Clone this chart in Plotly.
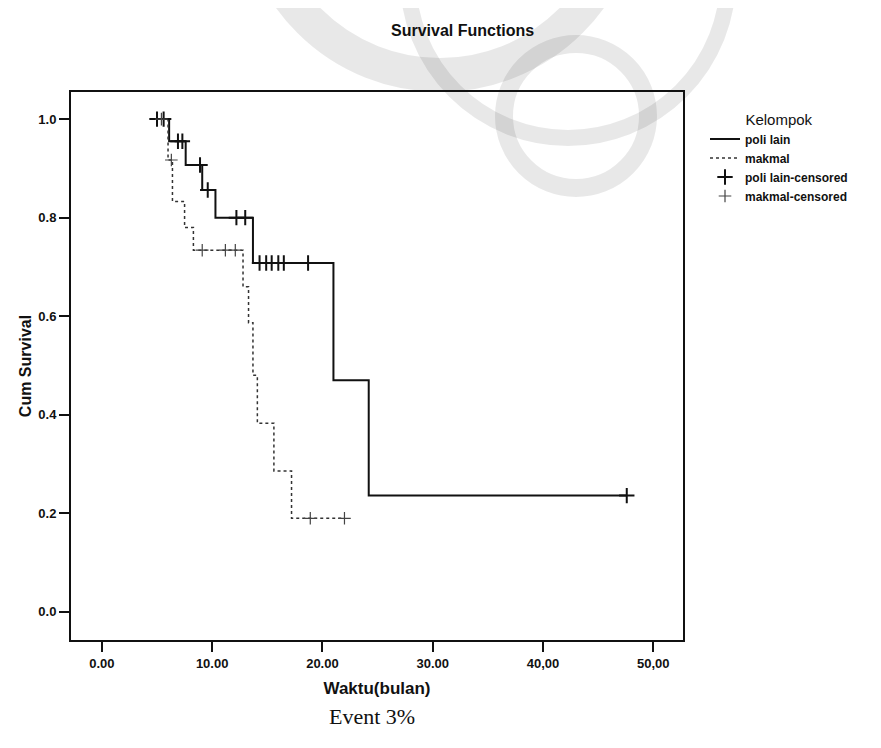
import plotly.graph_objects as go

# poli lain (solid) step curve
poli_t = [5.0, 6.1, 7.6, 9.1, 10.3, 13.7, 21.0, 24.2, 47.6]
poli_s = [1.0, 0.955, 0.907, 0.856, 0.80, 0.708, 0.47, 0.236, 0.236]
poli_cens_t = [5.0, 5.6, 6.9, 7.3, 8.9, 9.6, 12.2, 13.0, 14.3, 14.9, 15.4, 16.0, 16.5, 18.7, 47.6]
poli_cens_s = [1.0, 1.0, 0.955, 0.955, 0.907, 0.856, 0.80, 0.80, 0.708, 0.708, 0.708, 0.708, 0.708, 0.708, 0.236]

# makmal (dotted) step curve
mak_t = [5.4, 6.0, 6.4, 7.5, 8.3, 12.8, 13.3, 13.7, 14.1, 15.6, 17.2, 22.0]
mak_s = [1.0, 0.917, 0.833, 0.78, 0.734, 0.66, 0.587, 0.48, 0.383, 0.286, 0.19, 0.19]
mak_cens_t = [5.4, 6.3, 9.1, 11.2, 12.1, 18.9, 22.0]
mak_cens_s = [1.0, 0.917, 0.734, 0.734, 0.734, 0.19, 0.19]

x_ticks = [0, 10, 20, 30, 40, 50]
x_labels = ["0.00", "10.00", "20.00", "30.00", "40,00", "50,00"]
y_ticks = [0.0, 0.2, 0.4, 0.6, 0.8, 1.0]
y_labels = ["0.0", "0.2", "0.4", "0.6", "0.8", "1.0"]

FONT = "Liberation Sans, Arial, sans-serif"
W, H = 873, 740
L, T, PW, PH = 63, 84, 612, 548

def px(x):
    return (x - L) / PW

def py(y):
    return (T + PH - y) / PH

fig = go.Figure()
fig.add_trace(go.Scatter(x=poli_t, y=poli_s, mode="lines", line_shape="hv",
                         line=dict(color="#111111", width=2), name="poli lain"))
fig.add_trace(go.Scatter(x=mak_t, y=mak_s, mode="lines", line_shape="hv",
                         line=dict(color="#333333", width=1.5, dash="dot"), name="makmal"))
fig.add_trace(go.Scatter(x=poli_cens_t, y=poli_cens_s, mode="markers",
                         marker=dict(symbol="cross-thin", size=11, line=dict(color="#111111", width=2)),
                         name="poli lain-censored"))
fig.add_trace(go.Scatter(x=mak_cens_t, y=mak_cens_s, mode="markers",
                         marker=dict(symbol="cross-thin", size=9, line=dict(color="#444444", width=1.2)),
                         name="makmal-censored"))

# faint watermark arcs (decorative background)
wm = "rgba(0,0,0,0.09)"
def ring(cx, cy, r, w):
    return dict(type="circle", xref="paper", yref="paper", layer="below",
                x0=px(cx - r), x1=px(cx + r), y0=py(cy + r), y1=py(cy - r),
                line=dict(color=wm, width=w), fillcolor="rgba(0,0,0,0)")

shapes = [
    ring(432, -118, 185, 34),
    ring(568, 108, 72, 18),
    ring(560, -30, 160, 16),
]

fig.update_layout(
    width=W, height=H,
    margin=dict(l=L, r=W - L - PW, t=T, b=H - T - PH),
    paper_bgcolor="white", plot_bgcolor="rgba(0,0,0,0)",
    font=dict(family=FONT, color="#111111"),
    showlegend=True,
    shapes=shapes,
    legend=dict(x=px(697), y=py(97), xanchor="left", yanchor="top",
                title=dict(text="Kelompok", side="top center",
                           font=dict(size=15, color="#111111", weight="normal")),
                font=dict(size=12, color="#111111", weight="bold"), tracegroupgap=0,
                itemwidth=30, bgcolor="rgba(0,0,0,0)"),
    xaxis=dict(range=[-2.8, 52.7], tickvals=x_ticks, ticktext=x_labels,
               ticks="outside", ticklen=10, tickwidth=2, tickcolor="#111111",
               showline=True, linecolor="#111111", linewidth=2, mirror=True,
               showgrid=False, zeroline=False,
               tickfont=dict(size=13, family=FONT, weight="bold"),
               title=dict(text="Waktu(bulan)", font=dict(size=17, weight="bold"), standoff=13)),
    yaxis=dict(range=[-0.057, 1.055], tickvals=y_ticks, ticktext=y_labels,
               ticks="outside", ticklen=10, tickwidth=2, tickcolor="#111111",
               showline=True, linecolor="#111111", linewidth=2, mirror=True,
               showgrid=False, zeroline=False,
               tickfont=dict(size=13, family=FONT, weight="bold"),
               title=dict(text="Cum Survival", font=dict(size=16, weight="bold"), standoff=3)),
    annotations=[
        dict(text="<b>Survival Functions</b>", x=px(455), y=py(22), xref="paper", yref="paper",
             xanchor="center", yanchor="middle",
             showarrow=False, font=dict(size=16, family=FONT, color="#111111")),
        dict(text="Event 3%", x=px(364), y=py(708), xref="paper", yref="paper",
             xanchor="center", yanchor="middle",
             showarrow=False, font=dict(size=22, family="Liberation Serif, Times New Roman, serif",
                                        color="#111111")),
    ],
)

fig.write_html("out.html")
